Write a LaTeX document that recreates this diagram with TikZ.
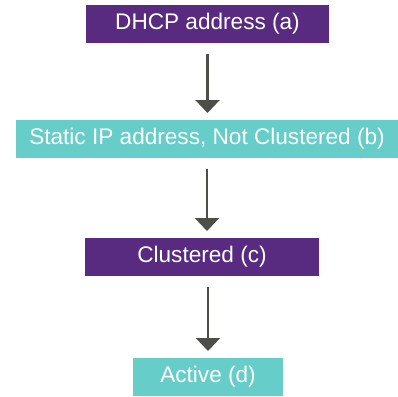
\documentclass[tikz,border=0pt]{standalone}
\usepackage{fontspec}
\setmainfont{Liberation Sans}
\usetikzlibrary{arrows.meta}
\definecolor{stpurple}{HTML}{582A80}
\definecolor{stteal}{HTML}{66CDC8}
\definecolor{starrow}{HTML}{4D4D4A}
\begin{document}
\begin{tikzpicture}[x=1pt,y=-1pt]
  \useasboundingbox (0,0) rectangle (398,396);
  \tikzstyle{state}=[inner sep=0pt, outer sep=0pt, minimum height=38pt, text=white, font=\fontsize{22.6}{22.6}\selectfont]
  \tikzstyle{dark}=[state, fill=stpurple]
  \tikzstyle{light}=[state, fill=stteal]
  \tikzstyle{solid}=[color=starrow, line width=2.6pt, -{Triangle[width=24pt,length=13pt]}, shorten <=11pt, shorten >=7pt]
  \node[dark, minimum width=243pt]  (Sa) at (207.5,24) {DHCP address (a)};
  \node[light, minimum width=382pt] (Sb) at (207,139)  {Static IP address, Not Clustered (b)};
  \node[dark, minimum width=234pt]  (Sc) at (202,257)  {Clustered (c)};
  \node[light, minimum width=150pt] (Sd) at (208,377)  {Active (d)};
  \draw [solid] (Sa.south) -- (Sa.south |- Sb.north);
  \draw [solid] (Sb.south) -- (Sb.south |- Sc.north);
  \draw [solid] (Sd.north |- Sc.south) -- (Sd.north);
\end{tikzpicture}
\end{document}
